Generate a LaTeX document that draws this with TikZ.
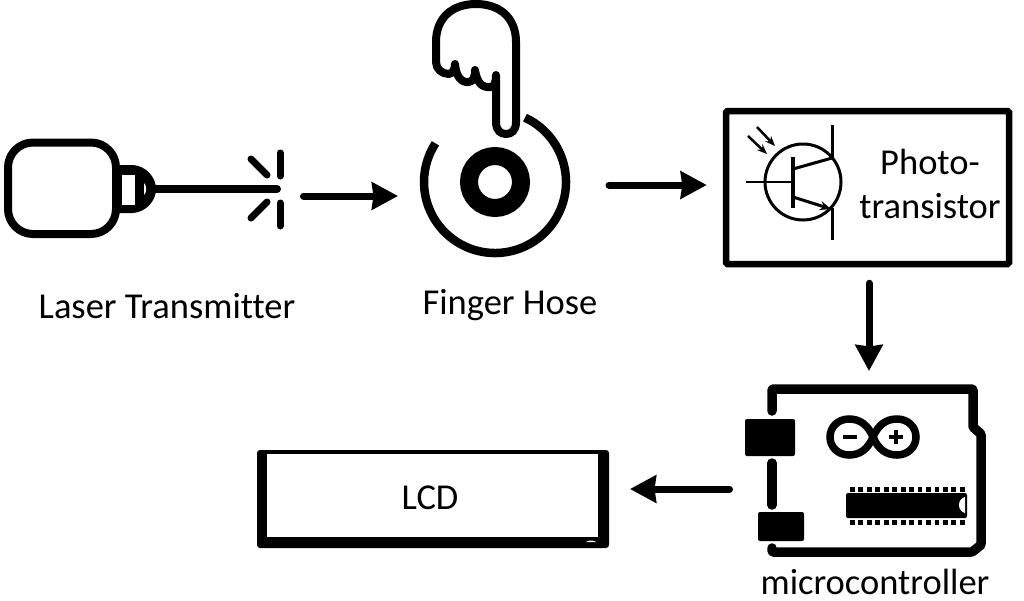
\documentclass[tikz,border=0pt]{standalone}
\usepackage{fontspec}
\setmainfont[Ligatures=CommonOff]{Carlito}
\usetikzlibrary{arrows.meta}
\tikzset{
  x=1pt,y=-1pt,
  lbl/.style={inner sep=0pt,font=\fontsize{36.5}{44}\selectfont,text=black},
  icon/.style={draw=none,inner sep=0pt,outer sep=0pt,rectangle},
  flow/.style={line width=7pt,line cap=round,-{Stealth[length=26pt,width=27pt,inset=1.5pt]}},
  panel/.style={draw=black,line width=6.5pt,rounded corners=1.5pt,inner sep=0pt,outer sep=3.25pt,fill=white},
  ink/.style={draw=black,line join=round,line cap=round},
}
\begin{document}
\begin{tikzpicture}
\useasboundingbox (0,0) rectangle (1024,600);
% icon extents
\node[icon,minimum width=280pt,minimum height=116pt] (laser) at (143,196) {};
\node[icon,minimum width=154pt,minimum height=154pt] (ring) at (495,182) {};
\node[icon,minimum width=241pt,minimum height=173pt] (mcu) at (865.5,470.5) {};
\node[panel,minimum width=283pt,minimum height=153pt] (photo) at (867.5,187.5) {};
\node[icon,minimum width=352pt,minimum height=98pt] (lcd) at (433,499) {};
% laser
\draw[ink,line width=8pt,rounded corners=25pt] (8,142.5) rectangle (116,234);
\fill[black] (118,165) -- (133,165) .. controls (146,166) and (156,177) .. (156,189) .. controls (156,201) and (146,212) .. (133,213) -- (118,213) -- cycle;
\fill[white] (122,175) rectangle (135,205);
\fill[white] (144,183) .. controls (147,186) and (147,192) .. (144,195) -- cycle;
\draw[ink,line width=8pt] (153,189) -- (277,189);
\draw[ink,line width=7pt] (251,159) -- (267,175);
\draw[ink,line width=7pt] (251,218) -- (267,202);
\draw[ink,line width=7pt] (280,153) -- (280,176);
\draw[ink,line width=7pt] (280,203) -- (280,226);
% finger
\draw[ink,line width=8pt,fill=white] (496,75) -- (496,122)
  .. controls (496,131) and (501,134) .. (506,134)
  .. controls (511,134) and (516,131) .. (516,122)
  -- (516,42) .. controls (516,18) and (500,4) .. (476,4)
  .. controls (452,4) and (436,18) .. (436,42)
  -- (436,62) .. controls (436,69) and (442,74) .. (449,74)
  .. controls (453,73) and (455,69) .. (455,64)
  .. controls (456,76) and (461,83) .. (469,82)
  .. controls (474,81) and (475,76) .. (475,70)
  .. controls (477,83) and (482,88) .. (491,87)
  .. controls (495,86) and (496,81) .. (496,75) -- cycle;
\draw[black,line width=8.5pt] (495,182) ++(-65:71) arc[start angle=-65,end angle=213,radius=71];
\draw[black,line width=18pt] (495,182) circle[radius=26];
% phototransistor
\draw[black,line width=3pt] (803,182) circle[radius=38];
\draw[black,line width=3.5pt] (793,157) -- (793,208);
\draw[black,line width=2pt] (746,182) -- (793,182);
\draw[black,line width=3pt] (832,125) -- (832,158);
\draw[black,line width=3pt] (832,208) -- (832,240);
\draw[black,line width=3pt] (793,169) -- (832,158);
\draw[black,line width=3pt,-{Stealth[length=11pt,width=9pt]}] (793,197) -- (831,209);
\draw[black,line width=2.5pt,-{Stealth[length=10pt,width=8pt]}] (757,127) -- (775,146);
\draw[black,line width=2.5pt,-{Stealth[length=10pt,width=8pt]}] (748,136) -- (767,154);
% microcontroller
\draw[ink,line width=9.5pt,rounded corners=1pt] (772,411) -- (772,389) -- (973,389) -- (973,427) -- (981,434) -- (981,545) -- (972,552) -- (772,552) -- (772,548);
\draw[ink,line width=9.5pt] (772,463) -- (772,505);
\fill[black,rounded corners=2pt] (745,419) rectangle (795,456);
\fill[black,rounded corners=2pt] (758,512) rectangle (804,541);
\draw[black,line width=7.5pt] (873,437) .. controls (868,425) and (860,419) .. (849,419)
  .. controls (838,419) and (830,427) .. (830,437) .. controls (830,447) and (838,455) .. (849,455)
  .. controls (860,455) and (868,449) .. (873,437) .. controls (878,425) and (886,419) .. (897,419)
  .. controls (908,419) and (916,427) .. (916,437) .. controls (916,447) and (908,455) .. (897,455)
  .. controls (886,455) and (878,449) .. (873,437) -- cycle;
\draw[black,line width=4pt] (843,437) -- (857,437);
\draw[black,line width=4pt] (889,437) -- (903,437) (896,430) -- (896,444);
\fill[black,rounded corners=2pt] (846,493) rectangle (967,518);
\fill[white] (965,497) .. controls (957,499) and (957,511) .. (965,513) -- cycle;
\foreach \i in {0,...,13} {
  \fill[black] ({850+8.45*\i},487) rectangle ++(4.8,4.8);
  \fill[black] ({850+8.45*\i},520) rectangle ++(4.8,4.8);
}
% LCD frame
\fill[black,rounded corners=3pt] (257,450) rectangle (609,548);
\fill[white] (267,454) rectangle (598,537);
\fill[white] (586,542) .. controls (588,540) and (594,540) .. (596,542) -- cycle;
% texts
\node[lbl] (t1) at (167,306) {Laser Transmitter};
\node[lbl] (t2) at (510,305) {Finger Hose};
\node[lbl,align=center,font=\fontsize{36.5}{44}\selectfont] (t3) at (930,184) {Photo-\\transistor};
\node[lbl] (t4) at (430,498) {LCD};
\node[lbl] (t5) at (875,582) {microcontroller};
% connectors
\draw[flow,shorten <=20.5pt,shorten >=20pt] (laser.east) -- ([yshift=-14pt]ring.west);
\draw[flow,shorten <=37pt,shorten >=16pt] ([yshift=-3pt]ring.east) -- ([yshift=2.5pt]photo.west);
\draw[flow,shorten <=16pt,shorten >=13pt] ([xshift=1.5pt]photo.south) -- ([xshift=3.5pt]mcu.north);
\draw[flow,shorten <=15.5pt,shorten >=21pt] ([yshift=-18.5pt]mcu.west) -- ([yshift=10pt]lcd.east);
\end{tikzpicture}
\end{document}
